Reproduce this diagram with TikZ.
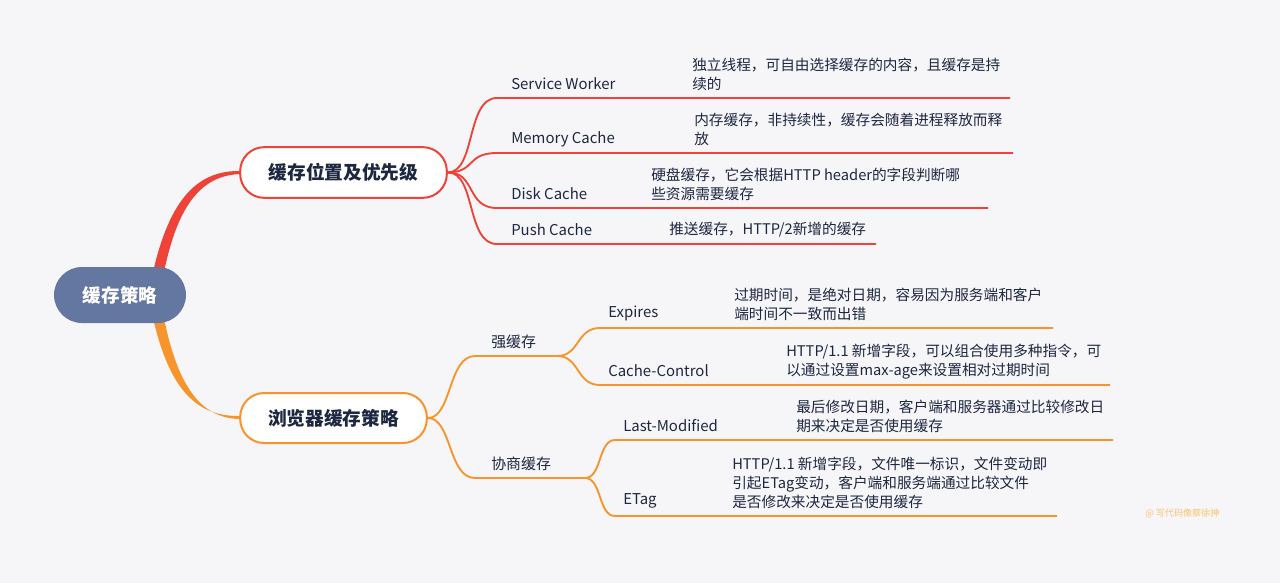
\documentclass[tikz,border=0pt]{standalone}
\usepackage{fontspec}
\setmainfont{Noto Sans CJK SC}
\definecolor{bgc}{HTML}{F6F6F9}
\definecolor{rootc}{HTML}{6477A0}
\definecolor{redc}{HTML}{EE4338}
\definecolor{orc}{HTML}{F7952C}
\definecolor{txt}{HTML}{1D2740}
\definecolor{wmc}{HTML}{F8C46A}
\begin{document}
\begin{tikzpicture}[x=0.75pt,y=-0.75pt,
  lbl/.style={font=\fontsize{11.2}{14}\selectfont, text=txt, inner sep=0pt, anchor=west},
  desc/.style={lbl, align=left, font=\fontsize{11}{14.3}\selectfont},
  topic/.style={draw, line width=1.5pt, fill=white, rounded corners=18pt, inner sep=0pt,
    font=\fontsize{14}{16}\selectfont\bfseries, text=txt},
  redl/.style={draw=redc, line width=1.4pt},
  orl/.style={draw=orc, line width=1.4pt}]
\fill[bgc] (0,0) rectangle (1280,583);
\useasboundingbox (0,0) rectangle (1280,583);
% root connectors (tapered)
\fill[redc] (153,272) .. controls (170,198) and (198,170) .. (241,171) -- (241,174) .. controls (202,175) and (178,204) .. (164,272) -- cycle;
\fill[orc] (153,318) .. controls (170,392) and (198,417) .. (241,416) -- (241,419) .. controls (202,419) and (178,388) .. (164,318) -- cycle;
% root
\node[fill=rootc, rounded corners=21pt, minimum width=99pt, minimum height=42pt, inner sep=0pt,
  font=\fontsize{13.9}{16}\selectfont\bfseries, text=white] (root) at (120,295) {缓存策略};
% topics
\node[topic, draw=redc, minimum width=155pt, minimum height=38pt] (n1) at (343.5,172.5) {缓存位置及优先级};
\node[topic, draw=orc, minimum width=140pt, minimum height=37.5pt] (n2) at (333.5,418) {浏览器缓存策略};
% ---------- branch 1 ----------
\coordinate (sw0) at (497,98);  \coordinate (sw1) at (1010,98);
\coordinate (mc0) at (497,153); \coordinate (mc1) at (1013,153);
\coordinate (dc0) at (497,208); \coordinate (dc1) at (988,208);
\coordinate (pc0) at (497,244); \coordinate (pc1) at (876,244);
\draw[redl] (n1.east) .. controls (476,172) and (466,98) .. (sw0) -- (sw1);
\draw[redl] (n1.east) .. controls (476,172) and (466,153) .. (mc0) -- (mc1);
\draw[redl] (n1.east) .. controls (476,172) and (466,208) .. (dc0) -- (dc1);
\draw[redl] (n1.east) .. controls (476,172) and (466,244) .. (pc0) -- (pc1);
\node[lbl] (sw) at (511,84) {Service Worker};
\node[lbl] (mc) at (511,139) {Memory Cache};
\node[lbl] (dc) at (511,194) {Disk Cache};
\node[lbl] (pc) at (511,230) {Push Cache};
\node[desc] (swd) at (692,74.5) {独立线程，可自由选择缓存的内容，且缓存是持\\续的};
\node[desc] (mcd) at (694,129.5) {内存缓存，非持续性，缓存会随着进程释放而释\\放};
\node[desc] (dcd) at (651,184.5) {硬盘缓存，它会根据HTTP header的字段判断哪\\些资源需要缓存};
\node[desc] (pcd) at (669,229.5) {推送缓存，HTTP/2新增的缓存};
% ---------- branch 2 ----------
\coordinate (qh0) at (475,356); \coordinate (qh1) at (557,356);
\coordinate (xs0) at (475,478); \coordinate (xs1) at (585,478);
\draw[orl] (n2.east) .. controls (452,418) and (448,356) .. (qh0) -- (qh1);
\draw[orl] (n2.east) .. controls (452,418) and (448,478) .. (xs0) -- (xs1);
\node[lbl] (qh) at (491,342) {强缓存};
\node[lbl] (xs) at (491,464) {协商缓存};
\coordinate (ex0) at (600,328); \coordinate (ex1) at (1053,328);
\coordinate (cc0) at (600,385); \coordinate (cc1) at (1110,385);
\coordinate (lm0) at (615,440); \coordinate (lm1) at (1113,440);
\coordinate (et0) at (615,516); \coordinate (et1) at (1057,516);
\draw[orl] (qh1) .. controls (580,356) and (576,328) .. (ex0) -- (ex1);
\draw[orl] (qh1) .. controls (580,356) and (576,385) .. (cc0) -- (cc1);
\draw[orl] (xs1) .. controls (602,478) and (598,440) .. (lm0) -- (lm1);
\draw[orl] (xs1) .. controls (602,478) and (598,516) .. (et0) -- (et1);
\node[lbl] (ex) at (608,313) {Expires};
\node[lbl] (cc) at (608,371) {Cache-Control};
\node[lbl] (lm) at (623,426) {Last-Modified};
\node[lbl] (et) at (623,501) {ETag};
\node[desc] (exd) at (734,304.5) {过期时间，是绝对日期，容易因为服务端和客户\\端时间不一致而出错};
\node[desc] (ccd) at (786,361.5) {HTTP/1.1 新增字段，可以组合使用多种指令，可\\以通过设置max-age来设置相对过期时间};
\node[desc] (lmd) at (796,416.5) {最后修改日期，客户端和服务器通过比较修改日\\期来决定是否使用缓存};
\node[desc] (etd) at (732,483) {HTTP/1.1 新增字段，文件唯一标识，文件变动即\\引起ETag变动，客户端和服务端通过比较文件\\是否修改来决定是否使用缓存};
% watermark
\node[inner sep=0pt, anchor=west, font=\fontsize{6.8}{8}\selectfont, text=wmc] (wm) at (1145,513) {@ 写代码像蔡徐抻};
\end{tikzpicture}
\end{document}
